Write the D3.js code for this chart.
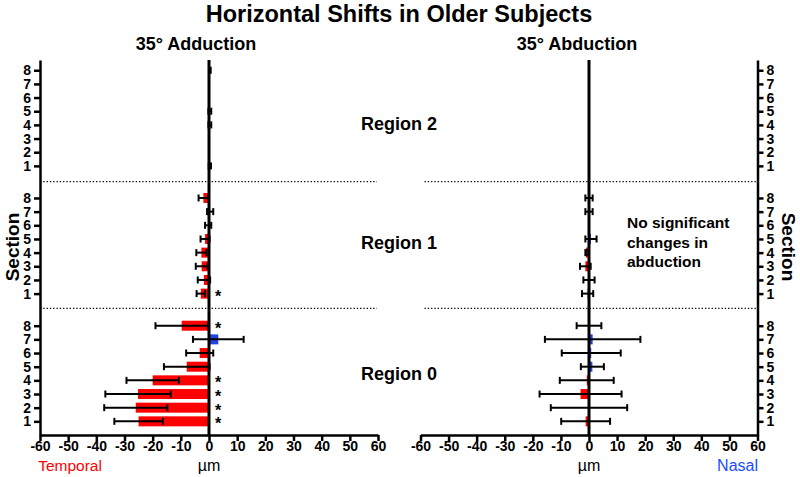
<!DOCTYPE html>
<html><head><meta charset="utf-8">
<script src="https://cdn.jsdelivr.net/npm/d3@7"></script>
<style>
body{margin:0;background:#fff;}
text{font-family:"Liberation Sans",Arial,sans-serif;}
</style></head>
<body><svg id="c" width="800" height="477"></svg>
<script>
// ---- data ----
const sections = [1,2,3,4,5,6,7,8];
const regions = ["Region 0","Region 1","Region 2"];
const xTicks = [-60,-50,-40,-30,-20,-10,0,10,20,30,40,50,60];
// 35° Adduction: mean shift (µm) per region, sections 1..8
const adductionMean = [
  [-25.0,-26.0,-25.2,-20.0,-7.9,-3.3,3.3,-9.7],
  [-2.9,-1.8,-2.6,-2.7,-1.4,-0.3,0.4,-2.0],
  [0.3,0.0,0.0,0.3,0.3,0.0,0.0,0.3]
];
const adductionSEM = [
  [8.6,11.2,11.6,9.3,8.1,4.8,9.0,9.3],
  [1.5,2.2,2.1,1.8,1.6,1.1,1.1,1.7],
  [0.4,0.0,0.0,0.5,0.5,0.0,0.0,0.3]
];
// 35° Abduction
const abductionMean = [
  [-1.2,0.0,-3.0,-0.8,1.2,0.8,1.3,0.0],
  [-0.5,0.0,-1.3,-1.1,0.7,0.0,0.0,0.0],
  [0,0,0,0,0,0,0,0]
];
const abductionSEM = [
  [8.7,13.6,14.6,9.6,4.1,10.5,17.0,4.4],
  [2.0,2.0,1.9,0.2,2.0,0.0,1.3,1.3],
  [0,0,0,0,0,0,0,0]
];
// significant (region index, section)
const significant = [[0,1],[0,2],[0,3],[0,4],[0,8],[1,1]];

// ---- layout ----
const svg = d3.select("#c");
const regionOffset = [0, 9.35, 18.7];
const pos = (r,s) => regionOffset[r] + s;
const y = d3.scaleLinear().domain([0, 27.45]).range([435, 60]);
const xL = d3.scaleLinear().domain([-60,60]).range([40,378]);
const xR = d3.scaleLinear().domain([-60,60]).range([420.5,757.5]);
const barH = 10;
const red = "#ff0000", blue = "#2244dd";

const tickVals = [], tickLab = {};
regions.forEach((rg,r)=>sections.forEach(s=>{tickVals.push(pos(r,s)); tickLab[pos(r,s)] = s;}));

function panel(x, means, sems, side){
  const g = svg.append("g");
  // dotted separators
  [9.27, 18.55].forEach(u=>{
    const x0 = side==="L" ? x.range()[0] : x.range()[0]+4;
    const x1 = side==="L" ? x.range()[1]-1 : x.range()[1];
    g.append("line").attr("x1",x0).attr("x2",x1).attr("y1",y(u)).attr("y2",y(u))
      .attr("stroke","#000").attr("stroke-width",1.3).attr("stroke-dasharray","1.3,2");
  });
  // bars
  regions.forEach((rg,r)=>sections.forEach((s,i)=>{
    const m = means[r][i];
    if (Math.abs(m) > 0.05) {
      g.append("rect").attr("x",Math.min(x(0),x(m))).attr("width",Math.abs(x(m)-x(0)))
        .attr("y",y(pos(r,s))-barH/2).attr("height",barH)
        .attr("fill", m<0?red:blue);
    }
  }));
  // zero line
  g.append("line").attr("x1",x(0)).attr("x2",x(0)).attr("y1",y.range()[1]).attr("y2",y.range()[0])
    .attr("stroke","#000").attr("stroke-width",3);
  // error bars
  regions.forEach((rg,r)=>sections.forEach((s,i)=>{
    const m = means[r][i], e = sems[r][i];
    if (e <= 0) return;
    const yy = y(pos(r,s));
    const a = x(m-e), b = x(m+e);
    g.append("line").attr("x1",a).attr("x2",b).attr("y1",yy).attr("y2",yy)
      .attr("stroke","#000").attr("stroke-width",2);
    [a,b].forEach(xx=>g.append("line").attr("x1",xx).attr("x2",xx).attr("y1",yy-3.5).attr("y2",yy+3.5)
      .attr("stroke","#000").attr("stroke-width",2));
  }));
  // x axis
  const ax = g.append("g").attr("transform","translate(0,435)")
    .call(d3.axisBottom(x).tickValues(xTicks).tickSize(6).tickPadding(2).tickSizeOuter(0).tickFormat(d=>String(d)));
  ax.select(".domain").attr("stroke-width",2.5);
  ax.selectAll(".tick line").attr("stroke-width",2.5);
  ax.selectAll(".tick text").attr("font-size",14).attr("font-weight","bold")
    .attr("font-family","Liberation Sans, Arial, sans-serif").attr("fill","#000").attr("dy","0.6em");
  // y axis
  const yAxis = side==="L" ? d3.axisLeft(y) : d3.axisRight(y);
  const ay = g.append("g").attr("transform",`translate(${side==="L"?x.range()[0]:x.range()[1]},0)`)
    .call(yAxis.tickValues(tickVals).tickSize(6).tickSizeOuter(0).tickFormat(d=>tickLab[d]));
  ay.select(".domain").attr("stroke-width",2.5);
  ay.selectAll(".tick line").attr("stroke-width",2.5);
  ay.selectAll(".tick text").attr("font-size",14).attr("font-weight","bold")
    .attr("font-family","Liberation Sans, Arial, sans-serif").attr("fill","#000");
  return g;
}
panel(xL, adductionMean, adductionSEM, "L");
panel(xR, abductionMean, abductionSEM, "R");

// significance stars
significant.forEach(([r,s])=>{
  svg.append("text").attr("x", xL(0)+9).attr("y", y(pos(r,s))+8)
    .attr("text-anchor","middle").attr("font-size",16).attr("font-weight","bold").text("*");
});

// texts
const T = (x,yy,t,o={})=>svg.append("text").attr("x",x).attr("y",yy).text(t)
  .attr("text-anchor",o.anchor||"middle").attr("font-size",o.size||16)
  .attr("font-weight",o.weight||"bold").attr("fill",o.fill||"#000");
T(399,22,"Horizontal Shifts in Older Subjects",{size:23.5});
T(196,50,"35° Adduction",{size:18});
T(577,50,"35° Abduction",{size:18});
T(399,130,"Region 2",{size:18});
T(399,249,"Region 1",{size:18});
T(399,380,"Region 0",{size:18});
T(627,228,"No significant",{size:15.5,anchor:"start"});
T(627,247.5,"changes in",{size:15.5,anchor:"start"});
T(627,267,"abduction",{size:15.5,anchor:"start"});
T(70,471,"Temporal",{size:15.5,weight:"normal",fill:red});
T(xL(0),471,"µm",{size:16,weight:"normal"});
T(xR(0),471,"µm",{size:16,weight:"normal"});
T(758,471,"Nasal",{size:16,weight:"normal",fill:"#1a4cff",anchor:"end"});
svg.append("text").attr("transform","translate(19,247) rotate(-90)").attr("text-anchor","middle")
  .attr("font-size",19).attr("font-weight","bold").text("Section");
svg.append("text").attr("transform","translate(782,247) rotate(90)").attr("text-anchor","middle")
  .attr("font-size",19).attr("font-weight","bold").text("Section");
</script></body></html>
